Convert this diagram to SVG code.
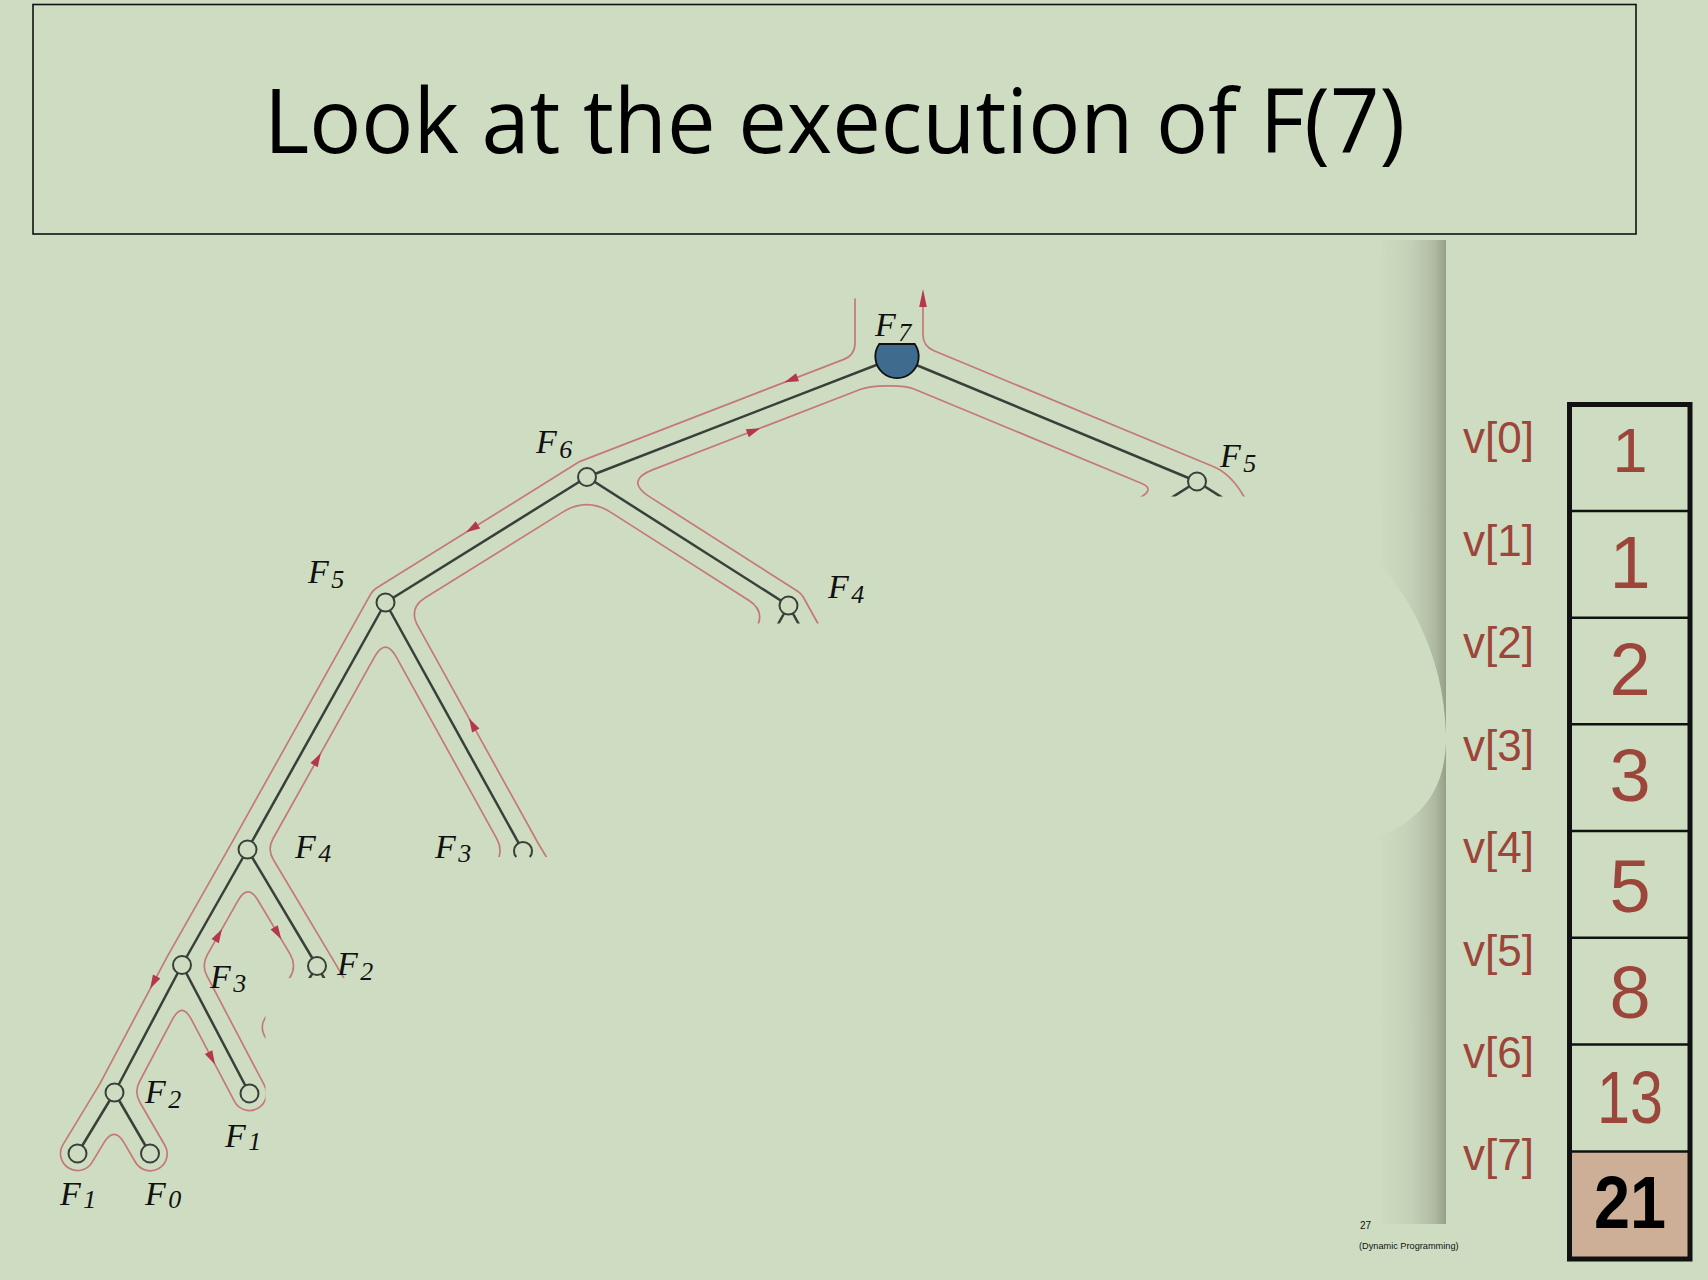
<svg xmlns="http://www.w3.org/2000/svg" width="1708" height="1280" viewBox="0 0 1708 1280">
<defs>
<style>
.tour{fill:none;stroke:#C57878;stroke-width:1.7;stroke-linejoin:round;stroke-linecap:round}
.arr{fill:#B5374A}
.edge{stroke:#3A3F3A;stroke-width:2.5;fill:none}
.nd{fill:#CEDDC1;stroke:#3A3F3A;stroke-width:2}
.lbl{font-family:"Liberation Serif",serif;font-style:italic;font-size:34px;fill:#111}
.sub{font-size:26px}
.vl{font-family:"Liberation Sans",sans-serif;font-size:44px;fill:#9C453A}
.num{font-family:"Liberation Sans",sans-serif;font-size:74px;fill:#9C453A;text-anchor:middle}
.big{font-weight:bold;fill:#000}
</style>
<path id="ah" d="M7,0 L-7,-4.2 L-7,4.2 Z"/>
<linearGradient id="strip" x1="0" y1="0" x2="1" y2="0">
<stop offset="0" stop-color="#CEDDC1"/>
<stop offset="0.5" stop-color="#C4D1B7"/>
<stop offset="0.85" stop-color="#AEB9A1"/>
<stop offset="1" stop-color="#959F88"/>
</linearGradient>
</defs>
<rect x="0" y="0" width="1708" height="1280" fill="#CEDDC1"/>
<g id="title">
<rect x="33" y="4.5" width="1603" height="229.5" fill="none" stroke="#111" stroke-width="1.6"/>
<text x="264" y="153" font-family="'Open Sans',sans-serif" font-size="89" fill="#000" textLength="1141" lengthAdjust="spacingAndGlyphs">Look at the execution of F(7)</text>
</g>
<g id="connectors">
<g id="tour">
<path class="tour" d="M855,299 L855,343 Q855,355.03 843.81,359.36 L580.86,461.15 A17,17 0 0 0 578.01,462.57 L376.51,588.07 A17,17 0 0 0 370.66,594.21 L232.7,841.2 L167.1,956.8 L99.7,1084.1 L62.96,1144.68 A17,17 0 1 0 92.04,1162.32 L103.84,1142.9 Q114.21,1125.8 124.27,1143.09 L135.31,1162.05 A17,17 0 1 0 164.69,1144.95 L139.98,1102.48 Q133.94,1092.11 139.55,1081.5 L172.58,1019.13 Q181.94,1001.45 191.24,1019.16 L234.45,1101.41 A17,17 0 1 0 264.55,1085.59 L206.95,975.93 Q201.37,965.31 207.29,954.87 L237.98,900.7 Q247.85,883.3 258.1,900.48 L289.96,953.85 Q297.13,965.87 289.8,977.8 L265.02,1018.1 A17,17 0 1 0 293.98,1035.9"/>
<path class="tour" d="M367.64,1018.36 L331.64,957.36 L273.28,859.53 Q267.13,849.22 272.98,838.74 L374.71,656.67 Q385.44,637.46 396.09,656.71 L496.73,838.65 Q503.51,850.9 496.6,863.08 L488.7,877"/>
<path class="tour" d="M552.97,868.05 L537.7,842.5 L417.86,625.88 Q408.18,608.38 425.16,597.81 L563.13,511.89 Q586.9,497.09 610.51,512.15 L748.98,600.46 Q765.84,611.21 756.09,628.67 L746.3,646.1"/>
<path class="tour" d="M822.74,632.27 L803.38,597.27 A17,17 0 0 0 797.64,591.17 L649.75,496.86 Q624.46,480.73 652.44,469.9 L860,389.55 C871.19,385.22 902.92,384.36 914,388.96 L1141.25,483.26 Q1154.18,488.63 1142.38,496.16 L1129.7,504.2"/>
<path class="tour" d="M1250,505 L1243,495 Q1230,473 1212,466.07 L934,350.7 Q923,346.14 923,335 L923,300"/>
<polygon class="arr" points="923,289 919.2,307 926.8,307"/>
<use href="#ah" class="arr" transform="translate(791,379.8) rotate(158.8)"/>
<use href="#ah" class="arr" transform="translate(753.8,430.7) rotate(-21.2)"/>
<use href="#ah" class="arr" transform="translate(472,528.6) rotate(148.1)"/>
<use href="#ah" class="arr" transform="translate(472.4,724.4) rotate(-118.9)"/>
<use href="#ah" class="arr" transform="translate(317.5,759) rotate(-60.8)"/>
<use href="#ah" class="arr" transform="translate(153.4,982.6) rotate(117.9)"/>
<use href="#ah" class="arr" transform="translate(218.6,935) rotate(-60.5)"/>
<use href="#ah" class="arr" transform="translate(277.7,933.3) rotate(59.2)"/>
<use href="#ah" class="arr" transform="translate(211.8,1058.3) rotate(62.3)"/>
</g>
<g id="edges" class="edge">
<line x1="897" y1="357" x2="587" y2="477"/>
<line x1="897" y1="357" x2="1197" y2="481.5"/>
<line x1="587" y1="477" x2="385.5" y2="602.5"/>
<line x1="587" y1="477" x2="788.5" y2="605.5"/>
<line x1="385.5" y1="602.5" x2="247.5" y2="849.5"/>
<line x1="385.5" y1="602.5" x2="523" y2="851"/>
<line x1="247.5" y1="849.5" x2="182" y2="965"/>
<line x1="247.5" y1="849.5" x2="317" y2="966"/>
<line x1="182" y1="965" x2="114.5" y2="1092.5"/>
<line x1="182" y1="965" x2="249.5" y2="1093.5"/>
<line x1="114.5" y1="1092.5" x2="77.5" y2="1153.5"/>
<line x1="114.5" y1="1092.5" x2="150" y2="1153.5"/>
<line x1="1197" y1="481.5" x2="1171.7" y2="497.6"/>
<line x1="1197" y1="481.5" x2="1222.3" y2="497.6"/>
<line x1="788.5" y1="605.5" x2="773.9" y2="631.7"/>
<line x1="788.5" y1="605.5" x2="803" y2="631.8"/>
<line x1="317" y1="966" x2="301.3" y2="991.6"/>
<line x1="317" y1="966" x2="332.2" y2="991.8"/>
</g>
</g>
<polygon id="cut" fill="#CEDDC1" points="1380,496.5 1000,496.5 1000,623.5 600,623.5 600,857 485,857 485,978 289,978 265.5,992 265.5,1280 1380,1280"/>
<g id="strip">
<rect x="1375" y="240" width="71" height="984" fill="url(#strip)"/>
<path d="M1372,555 C1405,590 1444,650 1446,735 C1447,800 1410,832 1350,845 L1372,845 Z" fill="#CEDDC1"/>
</g>
<g id="n7">
<path d="M879.26,344 A21.7,21.7 0 1 0 914.74,344 Z" fill="#3F6C8E" stroke="#111" stroke-width="1.8"/>
<text class="lbl" x="875" y="336">F<tspan class="sub" dx="2.5" dy="5">7</tspan></text>
</g>
<g id="n6"><circle class="nd" cx="587" cy="477" r="9"/><text class="lbl" x="536" y="453">F<tspan class="sub" dx="2.5" dy="5">6</tspan></text></g>
<g id="n5r"><circle class="nd" cx="1197" cy="481.5" r="9"/><text class="lbl" x="1220" y="467">F<tspan class="sub" dx="2.5" dy="5">5</tspan></text></g>
<g id="n5l"><circle class="nd" cx="385.5" cy="602.5" r="9"/><text class="lbl" x="308" y="583">F<tspan class="sub" dx="2.5" dy="5">5</tspan></text></g>
<g id="n4r"><circle class="nd" cx="788.5" cy="605.5" r="9"/><text class="lbl" x="828" y="598">F<tspan class="sub" dx="2.5" dy="5">4</tspan></text></g>
<g id="n4l"><circle class="nd" cx="247.5" cy="849.5" r="9"/><text class="lbl" x="295" y="858">F<tspan class="sub" dx="2.5" dy="4">4</tspan></text></g>
<g id="n3r"><path class="nd" d="M516.29,857 A9,9 0 1 1 529.71,857"/><text class="lbl" x="435" y="858">F<tspan class="sub" dx="2.5" dy="4">3</tspan></text></g>
<g id="n3l"><circle class="nd" cx="182" cy="965" r="9"/><text class="lbl" x="210" y="988">F<tspan class="sub" dx="2.5" dy="4">3</tspan></text></g>
<g id="n2r"><circle class="nd" cx="317" cy="966" r="9"/><text class="lbl" x="337" y="975">F<tspan class="sub" dx="2.5" dy="5">2</tspan></text></g>
<g id="n2l"><circle class="nd" cx="114.5" cy="1092.5" r="9"/><text class="lbl" x="145" y="1103">F<tspan class="sub" dx="2.5" dy="5">2</tspan></text></g>
<g id="n1r"><circle class="nd" cx="249.5" cy="1093.5" r="9"/><text class="lbl" x="225" y="1147">F<tspan class="sub" dx="2.5" dy="3">1</tspan></text></g>
<g id="n1"><circle class="nd" cx="77.5" cy="1153.5" r="9"/><text class="lbl" x="60" y="1205">F<tspan class="sub" dx="2.5" dy="3">1</tspan></text></g>
<g id="n0"><circle class="nd" cx="150" cy="1153.5" r="9"/><text class="lbl" x="145" y="1205">F<tspan class="sub" dx="2.5" dy="3">0</tspan></text></g>
<g id="table">
<rect x="1569.5" y="1151.5" width="120.5" height="107.5" fill="#CDAF98"/>
<g stroke="#111" stroke-width="2.5">
<line x1="1569.5" y1="511" x2="1690" y2="511"/>
<line x1="1569.5" y1="617.7" x2="1690" y2="617.7"/>
<line x1="1569.5" y1="724.3" x2="1690" y2="724.3"/>
<line x1="1569.5" y1="831" x2="1690" y2="831"/>
<line x1="1569.5" y1="937.7" x2="1690" y2="937.7"/>
<line x1="1569.5" y1="1044.5" x2="1690" y2="1044.5"/>
<line x1="1569.5" y1="1151.5" x2="1690" y2="1151.5"/>
</g>
<rect x="1569.5" y="404.5" width="120.5" height="854.5" fill="none" stroke="#111" stroke-width="5"/>
<text class="num" x="1630" y="472" font-size="63" style="font-size:63px">1</text>
<text class="num" x="1630" y="588">1</text>
<text class="num" x="1630" y="695">2</text>
<text class="num" x="1630" y="801">3</text>
<text class="num" x="1630" y="912">5</text>
<text class="num" x="1630" y="1018">8</text>
<text class="num" x="1630" y="1123" textLength="66" lengthAdjust="spacingAndGlyphs">13</text>
<text class="num big" x="1630" y="1228" textLength="72" lengthAdjust="spacingAndGlyphs">21</text>
</g>
<g id="indices">
<text class="vl" x="1463" y="453">v[0]</text>
<text class="vl" x="1463" y="556">v[1]</text>
<text class="vl" x="1463" y="658">v[2]</text>
<text class="vl" x="1463" y="761">v[3]</text>
<text class="vl" x="1463" y="863">v[4]</text>
<text class="vl" x="1463" y="966">v[5]</text>
<text class="vl" x="1463" y="1068">v[6]</text>
<text class="vl" x="1463" y="1170">v[7]</text>
</g>
<g id="footer" font-family="'Liberation Sans',sans-serif" fill="#111">
<text x="1360" y="1229" font-size="10">27</text>
<text x="1359" y="1248.5" font-size="9.2">(Dynamic Programming)</text>
</g>
</svg>
